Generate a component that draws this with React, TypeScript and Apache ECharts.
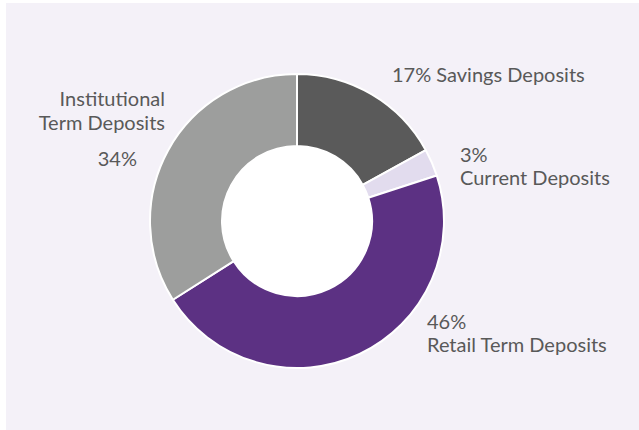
import React, { useEffect, useRef } from "react";
import * as echarts from "echarts";

const categories = ["Savings Deposits", "Current Deposits", "Retail Term Deposits", "Institutional Term Deposits"];
const values = [17, 3, 46, 34];
const colors = ["#5a5a5a", "#e2dcee", "#5c3183", "#9d9e9d"];

export default function App() {
  const ref = useRef<HTMLDivElement>(null);
  useEffect(() => {
    if (!ref.current) return;
    const chart = echarts.init(ref.current, undefined, { renderer: "svg" });
    const font = "Lato, 'DejaVu Sans', sans-serif";
    const fs = 20;
    const labelPos = [
      { x: 392, y: 74, align: "left" },
      { x: 460, y: 165, align: "left" },
      { x: 427, y: 332, align: "left" },
      { x: 165, y: 128, align: "right" },
    ];
    chart.setOption({
      animation: false,
      graphic: [
        { type: "rect", shape: { x: 6, y: 3, width: 633, height: 427 }, style: { fill: "#f4f1f8" }, z: 0 },
        { type: "circle", shape: { cx: 297, cy: 221, r: 76 }, style: { fill: "#ffffff" }, z: 0 },
      ],
      series: [
        {
          type: "pie",
          center: [297, 221],
          radius: [75, 147],
          startAngle: 90,
          clockwise: true,
          silent: true,
          itemStyle: { borderColor: "#ffffff", borderWidth: 2 },
          labelLine: { show: false },
          label: {
            show: true,
            position: "outside",
            overflow: "none",
            color: "#595959",
            fontFamily: font,
            fontSize: fs,
            lineHeight: 23,
            formatter: (p: any) => {
              const i = p.dataIndex;
              if (i === 0) return `${p.value}% ${p.name}`;
              if (i === 3) return `{t|Institutional}\n{t|Term Deposits}\n{p|${p.value}%}`;
              return `${p.value}%\n${p.name}`;
            },
            rich: {
              t: { color: "#595959", fontFamily: font, fontSize: fs, lineHeight: 24 },
              p: { color: "#595959", fontFamily: font, fontSize: fs, lineHeight: 36, padding: [12, 28, 0, 0] },
            },
          },
          labelLayout: (params: any) => {
            const lp = labelPos[params.dataIndex];
            return { x: lp.x, y: lp.y, align: lp.align, verticalAlign: "middle" };
          },
          data: categories.map((name, i) => ({ name, value: values[i], itemStyle: { color: colors[i] } })),
        },
      ],
    });
    return () => chart.dispose();
  }, []);
  return <div ref={ref} style={{ position: "absolute", left: 0, top: 0, width: 639, height: 430 }} />;
}
